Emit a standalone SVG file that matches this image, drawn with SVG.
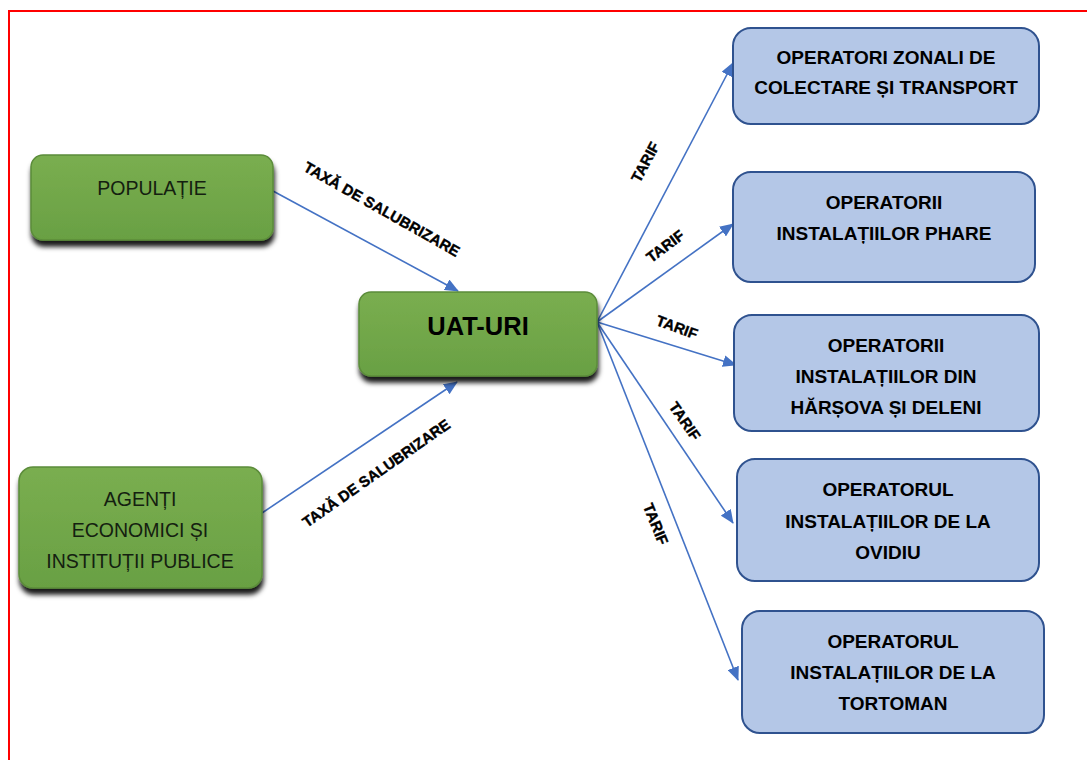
<svg xmlns="http://www.w3.org/2000/svg" width="1087" height="760" viewBox="0 0 1087 760">
<defs>
<style>
.green{fill:url(#gg);stroke:#5b8c3a;stroke-width:1.5;filter:url(#sh)}
.blue{fill:#b4c7e7;stroke:#2f528f;stroke-width:2}
.gt{font-family:"Liberation Sans",Arial,sans-serif;font-size:19.5px;fill:#142010;text-anchor:middle;dominant-baseline:central}
.bt{font-family:"Liberation Sans",Arial,sans-serif;font-size:19px;font-weight:bold;fill:#000;text-anchor:middle;dominant-baseline:central}
.lbl{font-family:"Liberation Sans",Arial,sans-serif;font-size:15px;font-weight:bold;fill:#000;stroke:#000;stroke-width:0.4;text-anchor:middle;dominant-baseline:central}
.conn{stroke:#4472c4;stroke-width:1.6;fill:none;marker-end:url(#ah)}
</style>
<linearGradient id="gg" x1="0" y1="0" x2="0" y2="1">
<stop offset="0" stop-color="#7aae50"/>
<stop offset="1" stop-color="#69a043"/>
</linearGradient>
<filter id="sh" x="-10%" y="-10%" width="125%" height="145%">
<feDropShadow dx="1" dy="6" stdDeviation="2.5" flood-color="#000" flood-opacity="0.9"/>
</filter>
<marker id="ah" markerUnits="userSpaceOnUse" markerWidth="14" markerHeight="12" refX="13" refY="6" orient="auto">
<path d="M0,0 L14,6 L0,12 Z" fill="#4472c4"/>
</marker>
</defs>
<rect x="9" y="11" width="1100" height="800" fill="#fff" stroke="#ff0000" stroke-width="2"/>
<g id="connectors">
<line class="conn" x1="273" y1="191" x2="458" y2="291"/>
<line class="conn" x1="262" y1="513" x2="457" y2="382"/>
<line class="conn" x1="597" y1="322" x2="733" y2="63"/>
<line class="conn" x1="597" y1="322" x2="733" y2="224"/>
<line class="conn" x1="597" y1="322" x2="736" y2="365"/>
<line class="conn" x1="597" y1="322" x2="733" y2="523"/>
<line class="conn" x1="597" y1="322" x2="738" y2="680"/>
<text class="lbl" transform="translate(382,209) rotate(29.5)">TAXĂ DE SALUBRIZARE</text>
<text class="lbl" transform="translate(376,473) rotate(-35)">TAXĂ DE SALUBRIZARE</text>
<text class="lbl" transform="translate(645,162) rotate(-62)">TARIF</text>
<text class="lbl" transform="translate(665,246) rotate(-37)">TARIF</text>
<text class="lbl" transform="translate(677,327) rotate(20)">TARIF</text>
<text class="lbl" transform="translate(685,421) rotate(55)">TARIF</text>
<text class="lbl" transform="translate(656,524) rotate(68)">TARIF</text>
</g>
<g id="populatie">
<rect class="green" x="31" y="155" width="242" height="85" rx="12"/>
<text class="gt" x="152" y="188">POPULAȚIE</text>
</g>
<g id="agenti">
<rect class="green" x="19" y="467" width="243" height="121" rx="14"/>
<text class="gt" x="140" y="499">AGENȚI</text>
<text class="gt" x="140" y="530">ECONOMICI ȘI</text>
<text class="gt" x="140" y="561">INSTITUȚII PUBLICE</text>
</g>
<g id="uat">
<rect class="green" x="359" y="292" width="238" height="84" rx="12"/>
<text class="bt" x="478" y="326" style="font-size:25.5px">UAT-URI</text>
</g>
<g id="op1">
<rect class="blue" x="733" y="28" width="306" height="96" rx="18"/>
<text class="bt" x="886" y="57">OPERATORI ZONALI DE</text>
<text class="bt" x="886" y="87">COLECTARE ȘI TRANSPORT</text>
</g>
<g id="op2">
<rect class="blue" x="733" y="172" width="302" height="110" rx="18"/>
<text class="bt" x="884" y="202">OPERATORII</text>
<text class="bt" x="884" y="233">INSTALAȚIILOR PHARE</text>
</g>
<g id="op3">
<rect class="blue" x="734" y="315" width="305" height="116" rx="18"/>
<text class="bt" x="886" y="345">OPERATORII</text>
<text class="bt" x="886" y="376">INSTALAȚIILOR DIN</text>
<text class="bt" x="886" y="407">HĂRȘOVA ȘI DELENI</text>
</g>
<g id="op4">
<rect class="blue" x="737" y="459" width="302" height="122" rx="18"/>
<text class="bt" x="888" y="489">OPERATORUL</text>
<text class="bt" x="888" y="521">INSTALAȚIILOR DE LA</text>
<text class="bt" x="888" y="552">OVIDIU</text>
</g>
<g id="op5">
<rect class="blue" x="742" y="611" width="302" height="122" rx="18"/>
<text class="bt" x="893" y="641">OPERATORUL</text>
<text class="bt" x="893" y="672">INSTALAȚIILOR DE LA</text>
<text class="bt" x="893" y="703">TORTOMAN</text>
</g>
</svg>
